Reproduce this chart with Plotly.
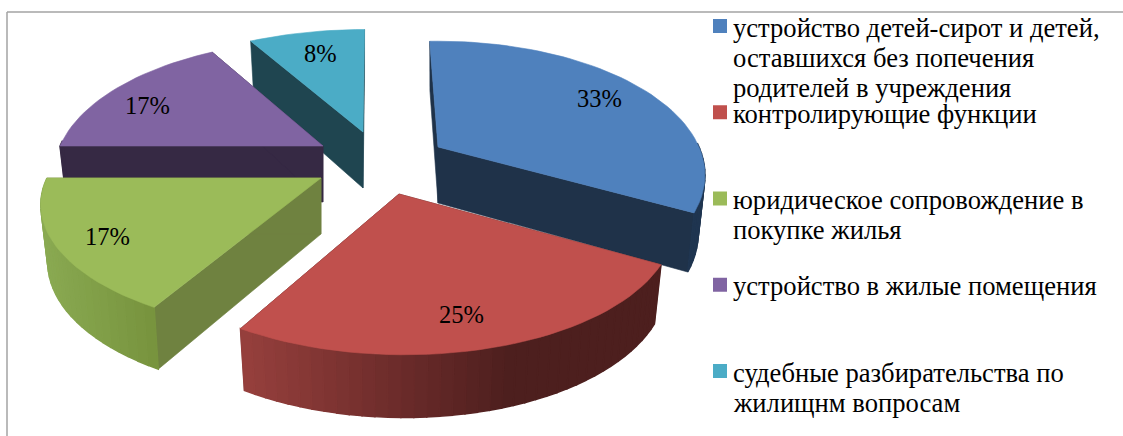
import math
import plotly.graph_objects as go

categories = [
    "устройство детей-сирот и детей,<br>оставшихся без попечения<br>родителей в учреждения",
    "контролирующие функции",
    "юридическое сопровождение в<br>покупке жилья",
    "устройство в жилые помещения",
    "судебные разбирательства по<br>жилищнм вопросам",
]
values = [33.3, 25, 16.7, 16.7, 8.3]
value_labels = ["33%", "25%", "17%", "17%", "8%"]
top_colors = ["#4f81bd", "#c0504d", "#9bbb59", "#8064a2", "#4bacc6"]
cut_colors = ["#1f3249", "#4d1f1e", "#6f8240", "#362944", "#1f4550"]
rim_stops = [
    [(600, "#1f3550"), (710, "#1f3550")],
    [(240, "#97403d"), (400, "#6b2b2a"), (510, "#4d1f1e"), (670, "#4d1f1e")],
    [(40, "#8aaa52"), (160, "#76923c")],
    [(40, "#362944"), (330, "#362944")],
    [(240, "#1f4550"), (370, "#1f4550")],
]
# pie geometry (screen pixels)
apex = [(438, 147), (399, 194), (321, 178), (323, 146), (363, 132)]
radius_x = [261, 268, 274, 263, 270]
radius_y = [128, 127, 122, 128, 124]
vanish_x = [438, 378, 321, 323, 372]
turn_deg = [-2.2, 0, 0, 0, 0]
label_pos = [(599, 98), (461, 314), (107, 236), (147, 105), (320, 53)]
draw_order = [4, 3, 0, 2, 1]
KP, DEPTH, SHRINK = 0.21, 56, 0.975


def project(i, theta, r=1.0, down=False):
    v, u = r * math.sin(theta), -r * math.cos(theta)
    s = 1 / (1 - KP * u)
    ax, ay = apex[i]
    x = vanish_x[i] + (ax - vanish_x[i]) * s + radius_x[i] * v * s
    y = ay + radius_y[i] * u * s
    if down:
        x = ax + (x - ax) * SHRINK
        y += DEPTH * (1 + 0.12 * u)
    return x, y


def lerp_color(stops, x):
    def rgb(h):
        return [int(h[j:j + 2], 16) for j in (1, 3, 5)]
    if x <= stops[0][0]:
        return stops[0][1]
    for (x0, c0), (x1, c1) in zip(stops, stops[1:]):
        if x <= x1:
            t = (x - x0) / (x1 - x0)
            m = [round(a + (b - a) * t) for a, b in zip(rgb(c0), rgb(c1))]
            return "#%02x%02x%02x" % tuple(m)
    return stops[-1][1]


def poly(points, color, width=0.6):
    return go.Scatter(
        x=[p[0] for p in points] + [points[0][0]],
        y=[p[1] for p in points] + [points[0][1]],
        mode="lines", fill="toself", fillcolor=color,
        line=dict(color=color, width=width), hoverinfo="skip", showlegend=False,
    )


fig = go.Figure()
total = sum(values)
starts, acc = [], 0
for val in values:
    starts.append(acc / total * 2 * math.pi)
    acc += val

for i in draw_order:
    a0 = starts[i] + math.radians(turn_deg[i])
    a1 = a0 + values[i] / total * 2 * math.pi
    n = max(8, int(values[i] * 1.6))
    thetas = [a0 + (a1 - a0) * j / n for j in range(n + 1)]
    for th in (a0, a1):
        fig.add_trace(poly([project(i, 0, 0), project(i, th), project(i, th, down=True),
                            project(i, 0, 0, down=True)], cut_colors[i]))
    for t0, t1 in zip(thetas, thetas[1:]):
        if math.cos(t0) > 0 and math.cos(t1) > 0:
            continue  # the back of the rim is hidden behind the top face
        pts = [project(i, t0), project(i, t1), project(i, t1, down=True), project(i, t0, down=True)]
        fig.add_trace(poly(pts, lerp_color(rim_stops[i], (pts[0][0] + pts[1][0]) / 2), width=1.5))
    fig.add_trace(poly([project(i, 0, 0)] + [project(i, t) for t in thetas], top_colors[i]))

# legend swatches
legend_y = [26 + 86.25 * i for i in range(len(categories))]
fig.add_trace(go.Scatter(
    x=[720] * len(categories), y=legend_y, mode="markers",
    marker=dict(symbol="square", size=14, color=top_colors, line=dict(width=0)),
    hoverinfo="skip", showlegend=False,
))

text_font = dict(family="Liberation Serif", color="#000000")
for i, txt in enumerate(value_labels):
    fig.add_annotation(x=label_pos[i][0], y=label_pos[i][1], text=txt, showarrow=False,
                       xanchor="center", yanchor="middle", font=dict(size=24.5, **text_font))
for i, txt in enumerate(categories):
    for j, line in enumerate(txt.split("<br>")):
        fig.add_annotation(x=732, y=legend_y[i] - 14.5 + j * 30.3, text=line, showarrow=False,
                           align="left", xanchor="left", yanchor="top", borderpad=0,
                           font=dict(size=26.6, **text_font))

frame = dict(type="line", line=dict(color="#a3a3a3", width=1.5), layer="below")
fig.add_shape(x0=7, x1=7, y0=12, y1=436, **frame)
fig.add_shape(x0=7, x1=1123, y0=12, y1=12, **frame)

fig.update_layout(
    width=1123, height=436, margin=dict(l=0, r=0, t=0, b=0),
    paper_bgcolor="white", plot_bgcolor="white", showlegend=False,
    xaxis=dict(range=[0, 1123], visible=False, fixedrange=True),
    yaxis=dict(range=[436, 0], visible=False, fixedrange=True),
)
fig.write_html("out.html", config={"displayModeBar": False},
               post_script="document.body.style.margin='0';")
